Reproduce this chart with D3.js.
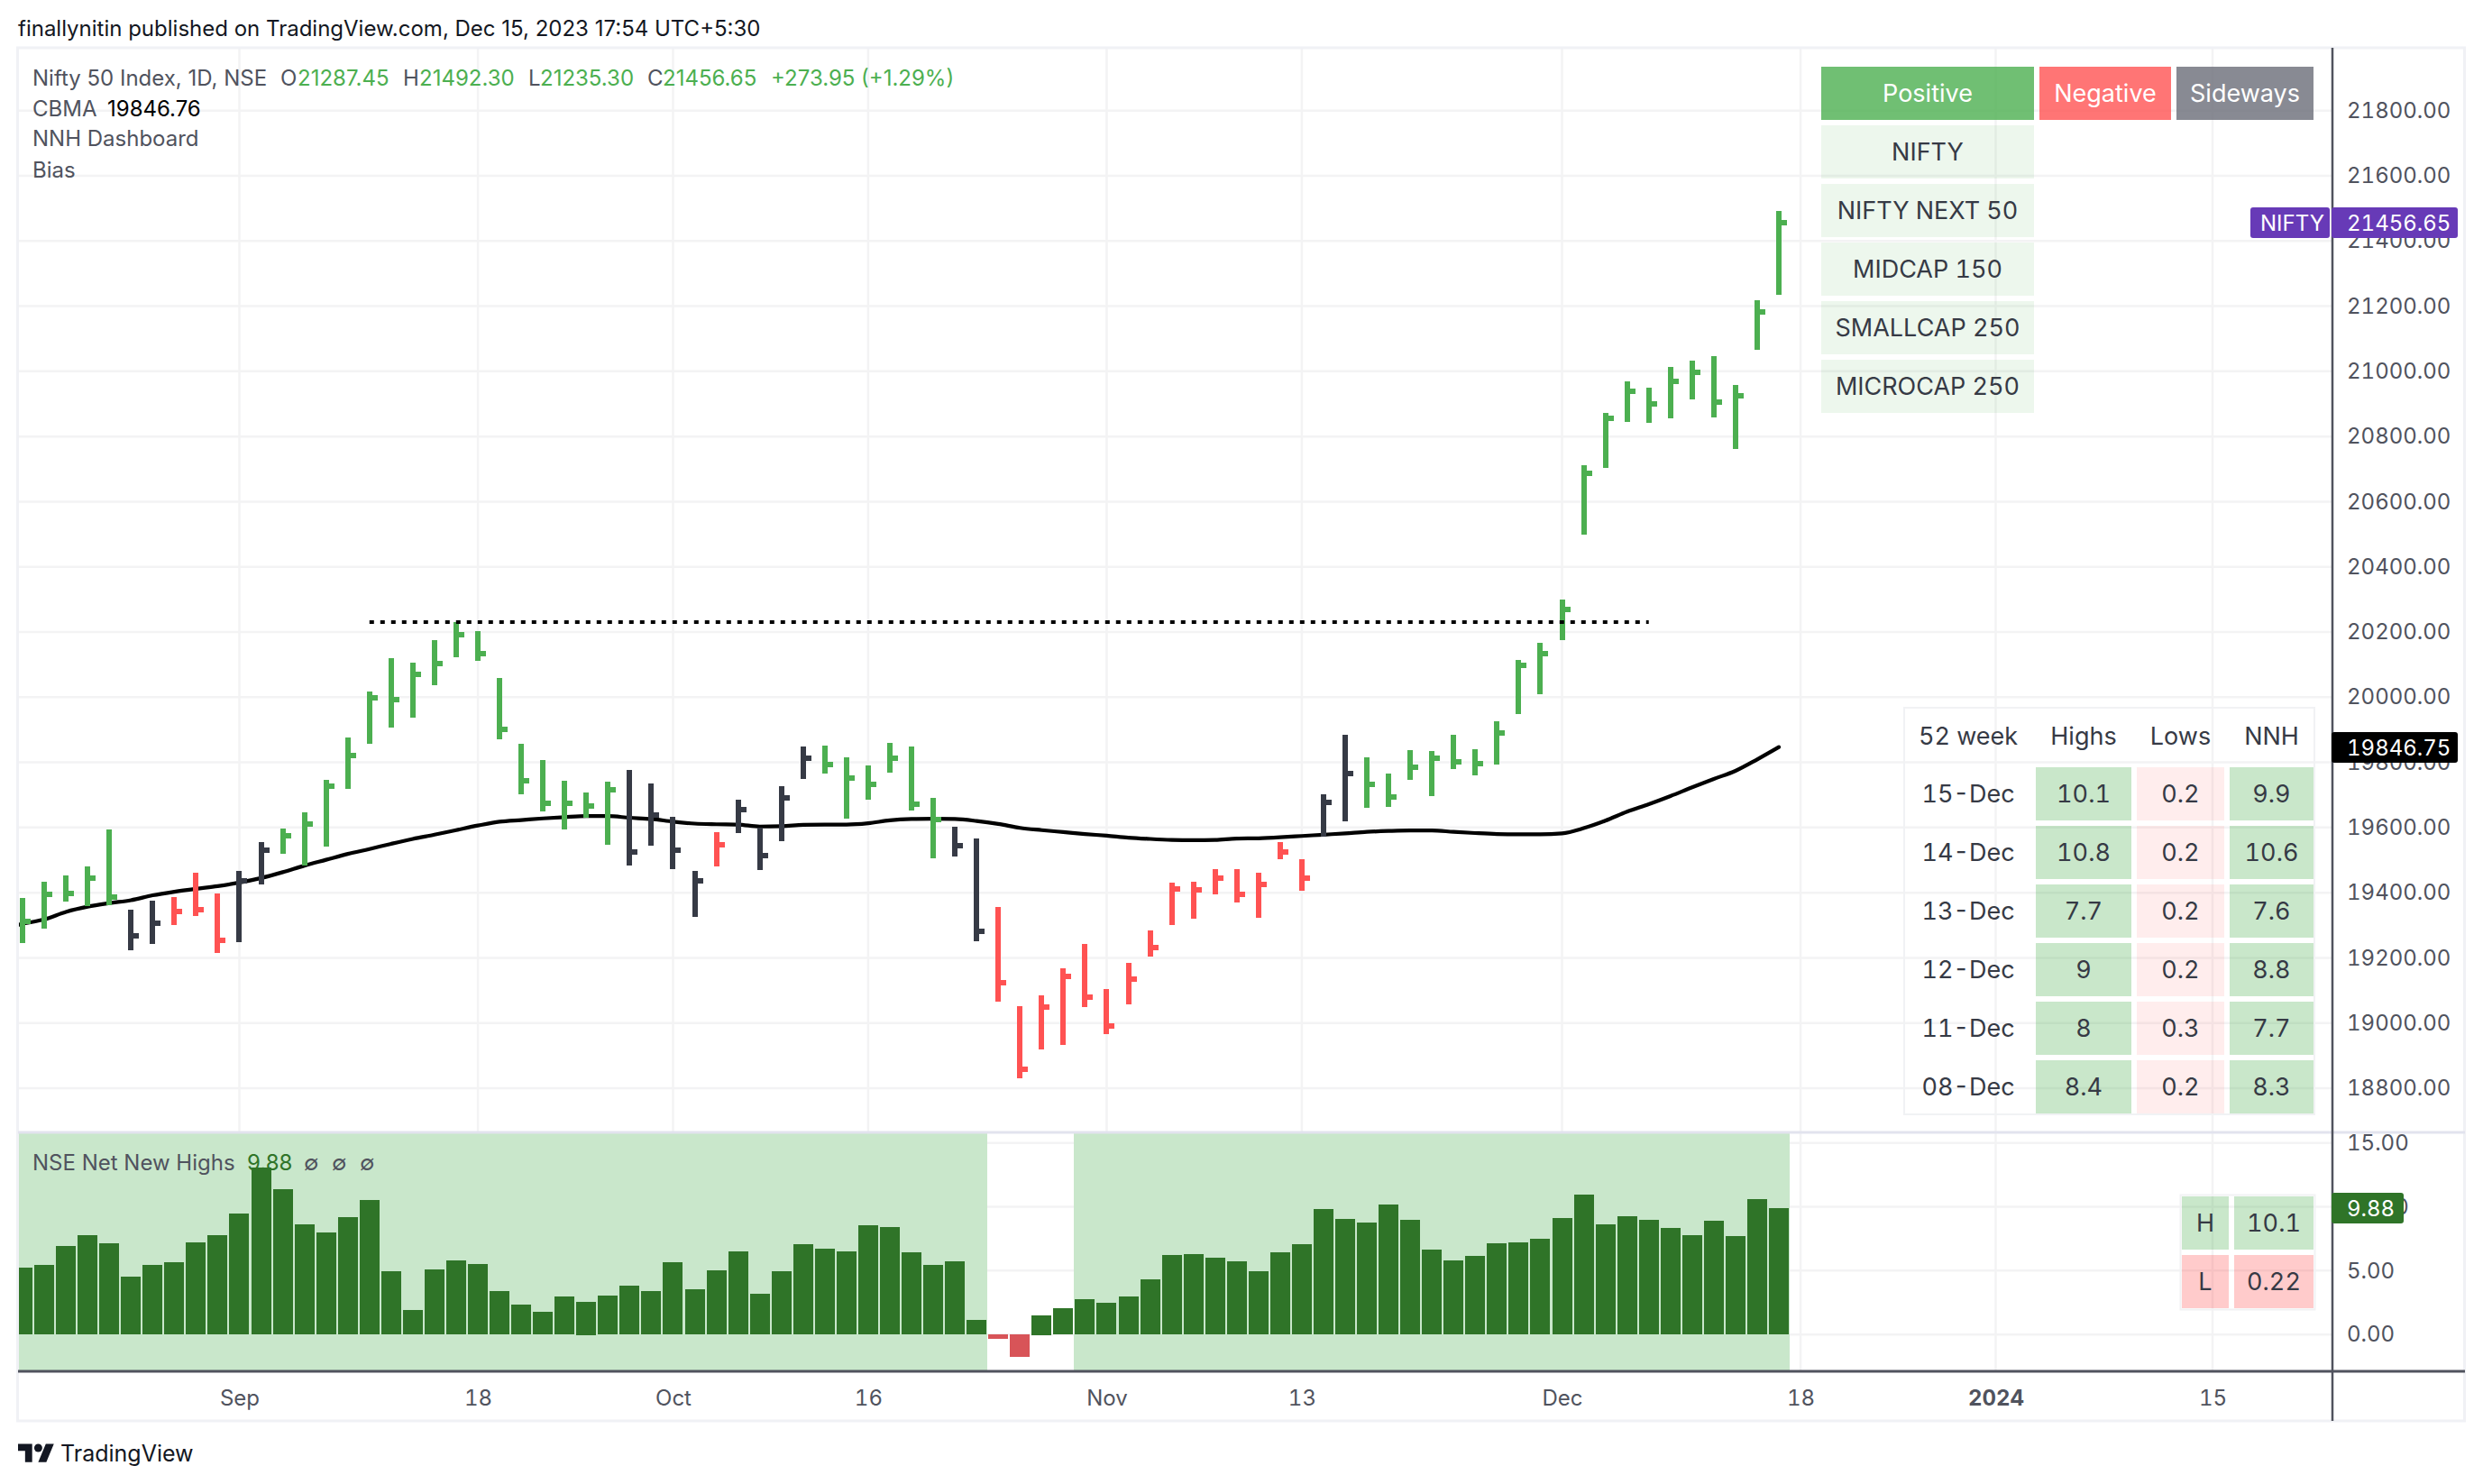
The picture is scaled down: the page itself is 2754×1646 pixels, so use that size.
<!DOCTYPE html>
<html>
<head>
<meta charset="utf-8">
<script src="https://cdn.jsdelivr.net/npm/d3@7"></script>
<style>
	html, body { margin: 0; padding: 0; background: #fff; }
	text { font-family: Inter, "Noto Sans", sans-serif; font-variant-numeric: tabular-nums; }
	text.plain { font-variant-numeric: normal; }
</style>
</head>
<body>
<div id="chart"></div>
<script>
// daily bars, index 0 is the first bar on the left
var barHighs = [19384,19433.7,19452.9,19481.2,19594.1,19347.9,19375,19386.3,19460.8,19397.6,
	19466.5,19555.7,19596.4,19647.2,19746.6,19876.4,20017.6,20120.4,20105.7,20175.7,
	20231,20201.7,20059.4,19857.2,19807.5,19743.2,19707,19740.9,19777,19735.3,
	19632.5,19466.5,19586.2,19685.6,19600.9,19727.4,19848.2,19851.6,19815.4,19790.6,
	19859.5,19848.2,19691.2,19602,19567,19355.8,19052,19084.8,19168.3,19242.9,
	19104,19184.2,19284.7,19430.3,19433.7,19472.2,19472.2,19460.8,19555.7,19502.6,
	19702.5,19884.6,19815.4,19765.6,19837.5,19834.8,19884.6,19840.3,19926,20114.2,
	20166.8,20299.5,20711.6,20872.7,20969.5,20949.7,21013,21032.7,21046.6,20957.6,
	21218.5,21492.3];
var barLows = [19245,19290.3,19372.8,19358.1,19361.4,19223.7,19242.9,19300.5,19328.7,19214.6,
	19248.5,19425.8,19519.6,19483.4,19541,19718.3,19857.2,19906.9,19937.4,20036.8,
	20122.6,20109.1,19870.8,19702.5,19649.4,19594.1,19630.2,19546.7,19484.5,19544.4,
	19472.2,19325.3,19481.2,19582.8,19472.2,19557.9,19748.8,19765.8,19626.8,19685.6,
	19768,19651.7,19506,19511.7,19250.8,19065.6,18830.7,18918.8,18932.3,19048.6,
	18966.2,19057.7,19204.5,19300.5,19319.7,19395.3,19370.5,19323,19502.6,19405.5,
	19571.5,19618.9,19660.4,19663.2,19746.2,19696.4,19779.4,19760,19793.3,19948.2,
	20009,20175,20499.1,20703.7,20845,20842,20854.9,20914.2,20858.8,20762,
	21066.3,21235.3];
var barCloses = [19310.6,19395.3,19398.7,19445,19387.4,19268.8,19307.2,19342.3,19347.9,19254.2,
	19437.1,19530.9,19574.9,19611,19727.4,19821.1,19998.4,19992.7,20070.7,20103.4,
	20192.6,20133.9,19901.3,19744.3,19674.3,19674.3,19666.4,19716.1,19525.2,19639.3,
	19530.9,19437.1,19547.8,19655.1,19513.9,19691.2,19813.2,19794,19752.2,19733,
	19813.2,19672,19625.7,19545.5,19282.4,19124.3,18858.9,19049.8,19143.5,19080.3,
	18992.2,19135.6,19231.6,19412.3,19408.9,19445,19395.3,19425.8,19525.2,19445,
	19677.7,19765.6,19732.4,19693.6,19785,19812.6,19801.5,19796,19890.1,20097.6,
	20133.6,20269.9,20686.9,20855.9,20938.9,20900.3,20969.5,20997,20906.2,20925,
	21182.9,21456.65];
var barBias = ["g","g","g","g","g","k","k","r","r","r",
	"k","k","g","g","g","g","g","g","g","g",
	"g","g","g","g","g","g","g","g","k","k",
	"k","k","r","k","k","k","k","g","g","g",
	"g","g","g","k","k","r","r","r","r","r",
	"r","r","r","r","r","r","r","r","r","r",
	"k","k","g","g","g","g","g","g","g","g",
	"g","g","g","g","g","g","g","g","g","g",
	"g","g"];
var maValues = [19305,19318,19341,19357,19368,19377,19392,19403,19412,19420,
	19431,19445,19463,19483,19501,19519,19534,19550,19565,19578,
	19592,19606,19618,19623,19628,19632,19635,19635,19630,19626,
	19618,19612,19610,19609,19603,19604,19608,19609,19609,19613,
	19622,19626,19627,19626,19620,19611,19599,19592,19586,19580,
	19575,19569,19565,19562,19561,19562,19566,19567,19570,19574,
	19578,19582,19586.7,19589.4,19591,19591,19586.7,19583,19580,19579,
	19579,19582,19598,19621,19648.5,19671.6,19696.5,19723.2,19749,19773.9,
	19809,19846.75];
var nnhValues = [5.21,5.42,6.91,7.76,7.12,4.5,5.42,5.64,7.19,7.76,
	9.46,13.07,11.37,8.61,7.97,9.17,10.52,4.93,1.89,5.07,
	5.78,5.5,3.37,2.31,1.75,2.95,2.59,3.02,3.8,3.37,
	5.64,3.51,5,6.49,3.16,4.93,7.05,6.7,6.49,8.54,
	8.4,6.42,5.42,5.71,1.11,-0.35,-1.79,1.53,2.03,2.74,
	2.45,2.95,4.29,6.2,6.27,5.99,5.71,4.93,6.42,7.05,
	9.81,9.03,8.75,10.17,8.96,6.63,5.78,6.13,7.12,7.19,
	7.48,9.1,10.94,8.61,9.25,8.96,8.33,7.76,8.89,7.7,
	10.6,9.88];

var priceTicks = [18800,19000,19200,19400,19600,19800,20000,20200,20400,20600,20800,21000,21200,21400,21600,21800];
var nnhTicks = [0,5,10,15];
var timeTickIndex = [10,21,30,39,50,59,71,82,91,101];
var timeTickLabels = ["Sep","18","Oct","16","Nov","13","Dec","18","2024","15"];

var resistanceLevel = 20231;
var resistanceFrom = 16;
var resistanceTo = 75;
var bandRanges = [[-1,44.5],[48.5,81.5]];

var legendParts = [
	["Nifty 50 Index, 1D, NSE",36,"#50535e"],["O",311,"#50535e"],["21287.45",330,"#4caf50"],
	["H",447,"#50535e"],["21492.30",465,"#4caf50"],["L",586,"#50535e"],["21235.30",599,"#4caf50"],
	["C",718,"#50535e"],["21456.65",735,"#4caf50"],["+273.95",855,"#4caf50"],["(+1.29%)",955,"#4caf50"]
];
var trendNames = ["NIFTY","NIFTY NEXT 50","MIDCAP 150","SMALLCAP 250","MICROCAP 250"];
var breadthDates = ["15-Dec","14-Dec","13-Dec","12-Dec","11-Dec","08-Dec"];
var breadthHighs = ["10.1","10.8","7.7","9","8","8.4"];
var breadthLows = ["0.2","0.2","0.2","0.2","0.3","0.2"];
var breadthNnh = ["9.9","10.6","7.6","8.8","7.7","8.3"];

var barColor = {g:"#4caf50", r:"#ff5252", k:"#363a45"};
var gridColor = "#f3f3f4";
var textColor = "#50535e";
var cellText = "#363a45";
var softGreen = "rgba(76,175,80,0.3)";
var paleGreen = "rgba(76,175,80,0.1)";
var softRed = "rgba(255,82,82,0.3)";
var paleRed = "rgba(255,82,82,0.1)";

var chart = d3.select("#chart")
	.append("svg")
	.attr("width", 2754)
	.attr("height", 1646);

var frameLeft = 20, frameRight = 2734, frameTop = 53, frameBottom = 1576;
var axisX = 2587, timeY = 1521, paneY = 1256;

var xScale = d3.scaleLinear().domain([0, 101]).range([25, 2454]);
var priceScale = d3.scaleLinear().domain([18800, 21800]).range([1207, 122.7]);
var nnhScale = d3.scaleLinear().domain([0, 15]).range([1480.2, 1267.7]);

function snap(v){ return Math.round(v); }

chart.append("clipPath").attr("id", "plot")
	.append("rect").attr("x", frameLeft).attr("y", frameTop).attr("width", axisX - frameLeft).attr("height", timeY - frameTop);

// grid
var grid = chart.append("g").attr("stroke", gridColor).attr("stroke-width", 2.5);
grid.selectAll(".v").data(timeTickIndex).enter().append("line")
	.attr("x1", xScale).attr("x2", xScale).attr("y1", frameTop).attr("y2", timeY);
grid.selectAll(".p").data(priceTicks).enter().append("line")
	.attr("x1", frameLeft).attr("x2", axisX).attr("y1", priceScale).attr("y2", priceScale);
grid.selectAll(".n").data(nnhTicks).enter().append("line")
	.attr("x1", frameLeft).attr("x2", axisX).attr("y1", nnhScale).attr("y2", nnhScale);

// lower pane
var lower = chart.append("g").attr("clip-path", "url(#plot)");
lower.selectAll("rect.band").data(bandRanges).enter().append("rect")
	.attr("class", "band")
	.attr("x", function(d){ return snap(xScale(d[0])); })
	.attr("width", function(d){ return snap(xScale(d[1])) - snap(xScale(d[0])); })
	.attr("y", paneY)
	.attr("height", timeY - paneY)
	.attr("fill", "#c9e7cb");
lower.selectAll("rect.nnh").data(nnhValues).enter().append("rect")
	.attr("class", "nnh")
	.attr("x", function(d, i){ return snap(xScale(i) - 11); })
	.attr("width", 22)
	.attr("y", function(d){ return snap(d >= 0 ? nnhScale(d) : nnhScale(0)); })
	.attr("height", function(d){ return snap(Math.abs(nnhScale(d) - nnhScale(0))); })
	.attr("fill", function(d){ return d >= 0 ? "#2f7428" : "#d85458"; });

// price pane
var upper = chart.append("g").attr("clip-path", "url(#plot)");
var maLine = d3.line()
	.x(function(d, i){ return xScale(i); })
	.y(function(d){ return priceScale(d); })
	.curve(d3.curveMonotoneX);
upper.append("path")
	.attr("d", maLine(maValues))
	.attr("fill", "none")
	.attr("stroke", "#000")
	.attr("stroke-width", 4.2)
	.attr("stroke-linecap", "round");
upper.append("line")
	.attr("x1", frameLeft).attr("x2", xScale(0))
	.attr("y1", priceScale(maValues[0]) + 1.5).attr("y2", priceScale(maValues[0]))
	.attr("stroke", "#000").attr("stroke-width", 4.2);

upper.selectAll("rect.stem").data(barHighs).enter().append("rect")
	.attr("class", "stem")
	.attr("x", function(d, i){ return snap(xScale(i) - 3); })
	.attr("width", 6)
	.attr("y", function(d){ return snap(priceScale(d)); })
	.attr("height", function(d, i){ return snap(priceScale(barLows[i]) - priceScale(d)); })
	.attr("fill", function(d, i){ return barColor[barBias[i]]; });
upper.selectAll("rect.close").data(barCloses).enter().append("rect")
	.attr("class", "close")
	.attr("x", function(d, i){ return snap(xScale(i) - 3) + 6; })
	.attr("width", 6)
	.attr("y", function(d){ return snap(priceScale(d) - 3); })
	.attr("height", 6)
	.attr("fill", function(d, i){ return barColor[barBias[i]]; });

upper.append("line")
	.attr("x1", xScale(resistanceFrom)).attr("x2", xScale(resistanceTo))
	.attr("y1", snap(priceScale(resistanceLevel))).attr("y2", snap(priceScale(resistanceLevel)))
	.attr("stroke", "#000")
	.attr("stroke-width", 4)
	.attr("stroke-dasharray", "5 7");

// frame and axes
chart.append("rect")
	.attr("x", frameLeft - 0.5).attr("y", frameTop).attr("width", frameRight - frameLeft).attr("height", frameBottom - frameTop)
	.attr("fill", "none").attr("stroke", "#f0f1f5").attr("stroke-width", 3);
chart.append("line")
	.attr("x1", frameLeft).attr("x2", frameRight).attr("y1", paneY).attr("y2", paneY)
	.attr("stroke", "#e2e3ee").attr("stroke-width", 3);

var priceAxis = d3.axisRight(priceScale).tickValues(priceTicks).tickSize(0).tickPadding(16).tickFormat(d3.format(".2f"));
var nnhAxis = d3.axisRight(nnhScale).tickValues(nnhTicks).tickSize(0).tickPadding(16).tickFormat(d3.format(".2f"));
var timeAxis = d3.axisBottom(xScale).tickValues(timeTickIndex).tickSize(0).tickPadding(21)
	.tickFormat(function(d, i){ return timeTickLabels[i]; });

[chart.append("g").attr("transform", "translate(" + axisX + ",0)").call(priceAxis),
 chart.append("g").attr("transform", "translate(" + axisX + ",0)").call(nnhAxis),
 chart.append("g").attr("transform", "translate(0," + timeY + ")").call(timeAxis)
].forEach(function(a){
	a.select(".domain").remove();
	a.selectAll("text")
		.style("font-family", "Inter, sans-serif")
		.style("font-size", "24px")
		.attr("fill", textColor);
});
chart.selectAll(".tick text").filter(function(){ return this.textContent === "2024"; })
	.style("font-weight", "700");

chart.append("line").attr("x1", axisX).attr("x2", axisX).attr("y1", frameTop).attr("y2", frameBottom)
	.attr("stroke", "#50535e").attr("stroke-width", 2.5);
chart.append("line").attr("x1", frameLeft).attr("x2", frameRight).attr("y1", timeY).attr("y2", timeY)
	.attr("stroke", "#50535e").attr("stroke-width", 3);

function label(txt, x, y, fill, size, anchor){
	return chart.append("text")
		.attr("x", x).attr("y", y)
		.attr("dominant-baseline", "central")
		.attr("text-anchor", anchor || "start")
		.attr("fill", fill)
		.style("font-size", (size || 24) + "px")
		.text(txt);
}
function plainLabel(txt, x, y, fill, size){
	return label(txt, x, y, fill, size).attr("class", "plain");
}
function cell(x, y, w, h, fill, txt, color, size){
	chart.append("rect").attr("x", x).attr("y", y).attr("width", w).attr("height", h).attr("fill", fill);
	if (txt !== undefined) label(txt, x + w / 2, y + h / 2, color || cellText, size || 27, "middle");
}
function tag(x, y, w, h, fill, txt, pad){
	chart.append("rect").attr("x", x).attr("y", y).attr("width", w).attr("height", h).attr("rx", 3).attr("fill", fill);
	label(txt, x + pad, y + h / 2, "#fff", 24);
}

// header and legends
plainLabel("finallynitin published on TradingView.com, Dec 15, 2023 17:54 UTC+5:30", 20, 31, "#131722", 24);
legendParts.forEach(function(p){ plainLabel(p[0], p[1], 86, p[2], 24); });
plainLabel("CBMA", 36, 120, textColor, 24);
plainLabel("19846.76", 119, 120, "#000", 24);
plainLabel("NNH Dashboard", 36, 153, textColor, 24);
plainLabel("Bias", 36, 188, textColor, 24);

plainLabel("NSE Net New Highs", 36, 1289, textColor, 24);
plainLabel("9.88", 274, 1289, "#2f7428", 24);
[337, 368, 399].forEach(function(x){ label("\u2205", x, 1289, textColor, 24); });

// trend dashboard
cell(2020, 74, 236, 59, "rgba(76,175,80,0.8)", "Positive", "#fff");
cell(2262, 74, 146, 59, "rgba(255,82,82,0.8)", "Negative", "#fff");
cell(2414, 74, 152, 59, "rgba(106,109,120,0.8)", "Sideways", "#fff");
trendNames.forEach(function(n, i){
	cell(2020, 139 + i * 65, 236, 59, paleGreen, n);
});

// 52 week table
chart.append("rect").attr("x", 2112).attr("y", 785).attr("width", 455).attr("height", 451)
	.attr("fill", "none").attr("stroke", "#f1f2f4").attr("stroke-width", 2);
label("52 week", 2183, 816, cellText, 27, "middle");
label("Highs", 2311, 816, cellText, 27, "middle");
label("Lows", 2418.5, 816, cellText, 27, "middle");
label("NNH", 2519.5, 816, cellText, 27, "middle");
breadthDates.forEach(function(d, i){
	var rowY = 851 + i * 65;
	label(d, 2183, rowY + 29.5, cellText, 27, "middle");
	cell(2258, rowY, 106, 59, softGreen, breadthHighs[i]);
	cell(2370, rowY, 97, 59, paleRed, breadthLows[i]);
	cell(2473, rowY, 93, 59, softGreen, breadthNnh[i]);
});

// high low box
chart.append("rect").attr("x", 2418.5).attr("y", 1325.5).attr("width", 149).attr("height", 127)
	.attr("fill", "none").attr("stroke", "#f1f2f4").attr("stroke-width", 2);
cell(2420, 1327, 52, 59, softGreen, "H");
cell(2478, 1327, 88, 59, softGreen, "10.1");
cell(2420, 1392, 52, 59, softRed, "L");
cell(2478, 1392, 88, 59, softRed, "0.22");

// price labels
tag(2496, 230, 88, 34, "#673ab7", "NIFTY", 11);
tag(2586, 230, 140, 34, "#673ab7", "21456.65", 17);
tag(2586, 812, 140, 34, "#000", "19846.75", 17);
tag(2586, 1323, 80, 34, "#2f7428", "9.88", 17);

// logo
var logo = chart.append("g").attr("transform", "translate(20,1597) scale(1.12)").attr("fill", "#131722");
logo.append("path").attr("d", "M14 22H7V11H0V4h14v18zM28 22h-8l7.5-18h8L28 22z");
logo.append("circle").attr("cx", 20).attr("cy", 8).attr("r", 4);
plainLabel("TradingView", 67, 1612, "#131722", 25);
</script>
</body>
</html>
